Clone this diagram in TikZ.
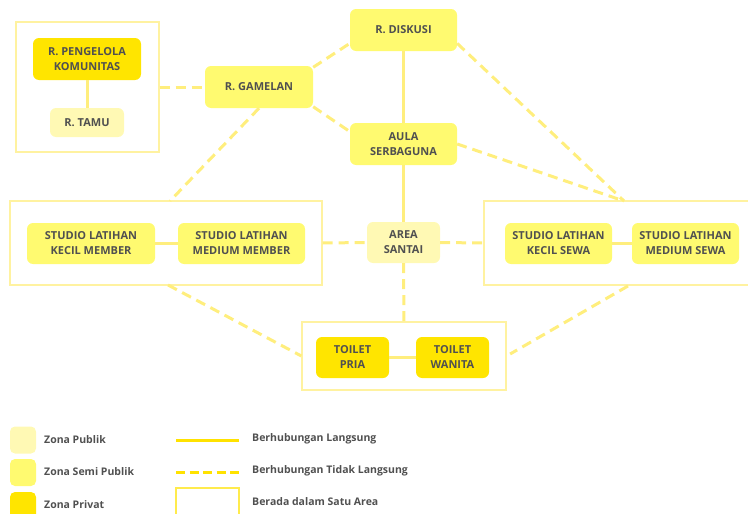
\documentclass[tikz,border=0pt]{standalone}
\usepackage{fontspec}
\setmainfont{Open Sans}
\usetikzlibrary{calc}
\definecolor{privatish}{RGB}{255,229,0}
\definecolor{semiish}{RGB}{255,250,112}
\definecolor{publikish}{RGB}{255,249,180}
\definecolor{linkish}{RGB}{255,238,125}
\definecolor{legendish}{RGB}{255,226,0}
\definecolor{areaish}{RGB}{255,242,160}
\definecolor{textish}{RGB}{80,80,80}

\begin{document}
\begin{tikzpicture}[
  x=1pt,
  y=-1pt,
  room/.style={
    rectangle,
    rounded corners=6pt,
    draw=none,
    text=textish,
    font=\fontsize{11}{15}\selectfont\bfseries,
    align=center,
    inner sep=0pt,
    minimum height=41pt
  },
  privat/.style={
    room,
    fill=privatish
  },
  semi/.style={
    room,
    fill=semiish
  },
  publik/.style={
    room,
    fill=publikish
  },
  areabox/.style={
    draw=areaish,
    line width=1.3pt,
    fill=none,
    rectangle,
    inner sep=0pt
  },
  direct/.style={
    linkish,
    line width=3pt
  },
  indirect/.style={
    linkish,
    line width=3pt,
    dash pattern=on 10pt off 6pt
  },
  legendtext/.style={
    anchor=west,
    text=textish,
    font=\fontsize{10.5}{12}\selectfont\bfseries,
    inner sep=0pt
  }
]
\useasboundingbox (0,0) rectangle (748,514);

% Areas
\node[areabox, minimum width=143pt, minimum height=130pt] (grpkantor) at (87.5,87) {};
\node[areabox, minimum width=312pt, minimum height=84pt] (grpmember) at (166,243) {};
\node[areabox, minimum width=268pt, minimum height=84pt] (grpsewa) at (618,243) {};
\node[areabox, minimum width=204pt, minimum height=68pt] (grptoilet) at (404,356) {};

% Rooms
\node[privat, minimum width=108pt, minimum height=42pt] (pengelola) at (87,59) {R. PENGELOLA\\KOMUNITAS};
\node[publik, minimum width=74pt, minimum height=29pt] (tamu) at (87,122.5) {R. TAMU};
\node[semi, minimum width=108pt, minimum height=42pt] (gamelan) at (259,87) {R. GAMELAN};
\node[semi, minimum width=107pt, minimum height=42pt] (diskusi) at (403.5,30) {R. DISKUSI};
\node[semi, minimum width=107pt, minimum height=42pt] (aula) at (403.5,144) {AULA\\SERBAGUNA};
\node[semi, minimum width=128pt] (kecilmember) at (91,243.5) {STUDIO LATIHAN\\KECIL MEMBER};
\node[semi, minimum width=127pt] (mediummember) at (241.5,243.5) {STUDIO LATIHAN\\MEDIUM MEMBER};
\node[publik, minimum width=73pt] (santai) at (403.5,242.5) {AREA\\SANTAI};
\node[semi, minimum width=107pt] (kecilsewa) at (558.5,243.5) {STUDIO LATIHAN\\KECIL SEWA};
\node[semi, minimum width=107pt] (mediumsewa) at (685.5,243.5) {STUDIO LATIHAN\\MEDIUM SEWA};
\node[privat, minimum width=73pt] (pria) at (352.5,357.5) {TOILET\\PRIA};
\node[privat, minimum width=73pt] (wanita) at (452.5,357.5) {TOILET\\WANITA};

% Ends on the area boxes
\coordinate (membertop) at (170,201);
\coordinate (memberbot) at (168,285);
\coordinate (sewatop) at (624,201);
\coordinate (sewabot) at (628,286);

% Direct links
\draw[direct] (pengelola) -- (tamu);
\draw[direct] (diskusi) -- (aula);
\draw[direct] (aula) -- (santai);
\draw[direct] (kecilmember) -- (mediummember);
\draw[direct] (kecilsewa) -- (mediumsewa);
\draw[direct] (pria) -- (wanita);

% Indirect links
\draw[indirect] (grpkantor.east) -- (gamelan.west);
\draw[indirect] (gamelan.20) -- (diskusi.194);
\draw[indirect] (gamelan.-20) -- (aula.167);
\draw[indirect] (gamelan.south) -- (membertop);
\draw[indirect] (diskusi.-14) -- (sewatop);
\draw[indirect] (aula.east) -- (sewatop);
\draw[indirect] (grpmember.east) -- (santai.west);
\draw[indirect] (santai.east) -- (grpsewa.west);
\draw[indirect] (santai.south) -- (grptoilet.north);
\draw[indirect] (memberbot) -- (grptoilet.west);
\draw[indirect, shorten >=4pt] (sewabot) -- (grptoilet.east);

% Legend
\foreach \zona/\warna/\y in {publik/publikish/440,semi/semiish/472.5,privat/privatish/505.5} {
  \node[room, fill=\warna, minimum width=26pt, minimum height=27pt, rounded corners=5pt] (leg\zona) at (23,\y) {};
}
\node[legendtext] (txpublik) at (44,440) {Zona Publik};
\node[legendtext] (txsemi) at (44,472) {Zona Semi Publik};
\node[legendtext] (txprivat) at (44,505) {Zona Privat};

\coordinate (solidA) at (176,440);
\coordinate (solidB) at (239,440);
\coordinate (dashA) at (176,472);
\coordinate (dashB) at (239,472);
\draw[legendish, line width=3pt] (solidA) -- (solidB);
\draw[legendish, line width=3pt, dash pattern=on 9pt off 4.5pt] (dashA) -- (dashB);
\node[areabox, draw=legendish!70, minimum width=63pt, minimum height=34pt] (legarea) at (207.5,505) {};

\node[legendtext] (txdirect) at (252,439) {Berhubungan Langsung};
\node[legendtext] (txindirect) at (252,471) {Berhubungan Tidak Langsung};
\node[legendtext] (txarea) at (252,502) {Berada dalam Satu Area};

\end{tikzpicture}
\end{document}
